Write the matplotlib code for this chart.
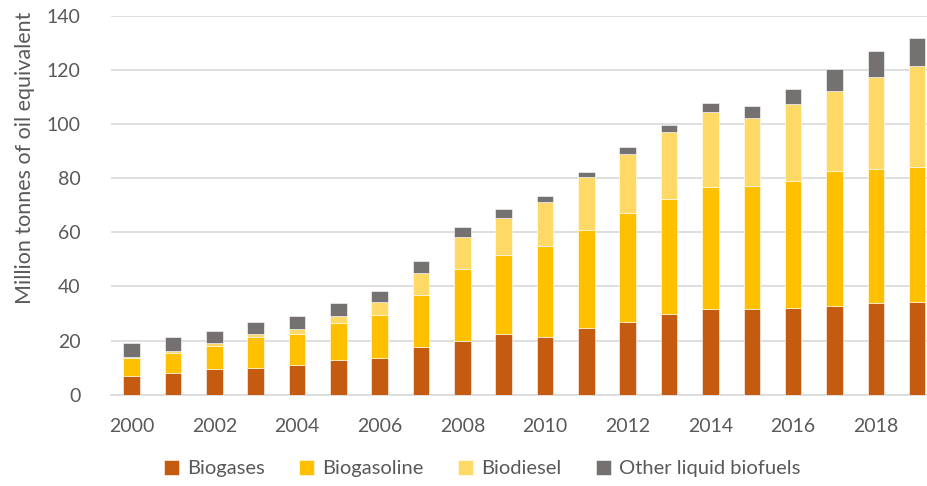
import matplotlib
matplotlib.use("Agg")
import matplotlib.pyplot as plt
import numpy as np

years = list(range(2000, 2020))

# Stacked bar components, million tonnes of oil equivalent
biogases = [6.8, 7.9, 9.4, 10.0, 10.9, 12.7, 13.5, 17.5, 19.9, 22.6,
            21.2, 24.5, 27.0, 29.7, 31.5, 31.8, 32.2, 32.6, 33.7, 34.1]
biogasoline = [6.8, 7.5, 8.6, 11.2, 11.7, 13.7, 15.9, 19.5, 26.5, 29.0,
               33.9, 36.2, 40.3, 42.8, 45.4, 45.5, 46.9, 50.2, 49.9, 50.2]
biodiesel = [0.5, 0.6, 1.1, 1.1, 1.8, 2.7, 4.7, 7.9, 11.8, 13.9,
             16.3, 19.7, 21.8, 24.7, 27.7, 25.1, 28.2, 29.4, 33.9, 37.4]
other = [4.9, 5.2, 4.6, 4.4, 4.6, 4.6, 4.4, 4.6, 3.8, 3.1,
         2.1, 1.9, 2.5, 2.6, 3.3, 4.4, 5.7, 8.4, 9.5, 10.2]

series = [
    ("Biogases", biogases, "#c55a11"),
    ("Biogasoline", biogasoline, "#ffc000"),
    ("Biodiesel", biodiesel, "#ffd966"),
    ("Other liquid biofuels", other, "#767171"),
]

plt.rcParams["font.family"] = ["Lato", "DejaVu Sans"]
text_color = "#595959"

fig = plt.figure(figsize=(9.27, 4.86), dpi=100)
ax = fig.add_axes([0.1197, 0.188, 0.892, 0.779])

x = np.arange(len(years))
bottom = np.zeros(len(years))
for label, vals, color in series:
    ax.bar(x, vals, width=0.4, bottom=bottom, color=color, label=label,
           edgecolor="white", linewidth=0.4, zorder=3)
    bottom += np.array(vals)

ax.set_xlim(-0.5, len(years) - 0.5)
ax.set_ylim(0, 140)
ax.set_yticks(range(0, 141, 20))
ax.set_xticks(x[::2])
ax.set_xticklabels([str(y) for y in years[::2]])
ax.tick_params(axis="both", length=0, labelsize=14, colors=text_color)
ax.tick_params(axis="y", pad=22)
ax.tick_params(axis="x", pad=17)

ax.grid(axis="y", color="#d9d9d9", linewidth=1.2, zorder=0)
for side in ["top", "right", "left"]:
    ax.spines[side].set_visible(False)
ax.spines["bottom"].set_color("#d9d9d9")
ax.spines["bottom"].set_linewidth(1.2)

ax.set_ylabel("Million tonnes of oil equivalent", fontsize=15.5,
              color=text_color)
ax.yaxis.set_label_coords(-0.092, 0.625)

ax.legend(loc="center", bbox_to_anchor=(0.449, -0.195), ncol=4,
          frameon=False, fontsize=14.5, handlelength=0.75, handleheight=0.75,
          handletextpad=0.4, columnspacing=1.7, labelcolor=text_color)

fig.savefig("out.png", dpi=100)
